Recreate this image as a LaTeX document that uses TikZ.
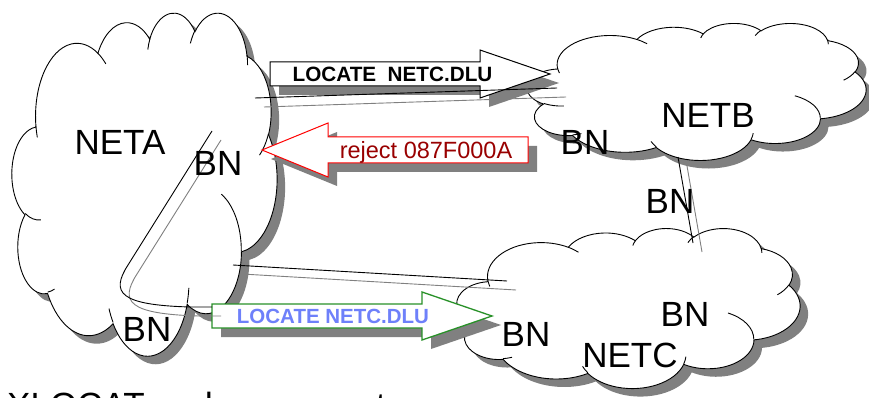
\documentclass[tikz,border=0pt]{standalone}
\usepackage{fontspec}
\setmainfont{Liberation Sans}
\definecolor{shadowgray}{RGB}{128,128,128}
\definecolor{rejred}{RGB}{153,0,0}
\definecolor{locgreen}{RGB}{40,145,40}
\definecolor{locblue}{RGB}{110,128,250}
% arc of an ellipse given OOXML-like (geometric) start angle and sweep
\newcommand\defcarc[5]{%
  \pgfmathsetmacro\cldS{atan2((#2)*sin(#4),(#3)*cos(#4))}%
  \pgfmathsetmacro\cldE{atan2((#2)*sin((#4)+(#5)),(#3)*cos((#4)+(#5)))}%
  \pgfmathsetmacro\cldD{\cldE-\cldS}%
  \pgfmathsetmacro\cldD{\cldD<0?\cldD+360:\cldD}%
  \edef\cldTmp{\noexpand\tikzset{#1/.style={start angle=\cldS,delta angle=\cldD,x radius=#2,y radius=#3}}}%
  \cldTmp}
\defcarc{ca1}{6.753}{9.190}{-190.48748}{123.78053}
\defcarc{ca2}{5.333}{7.267}{-144.10238}{89.94523}
\defcarc{ca3}{4.365}{5.945}{-145.80792}{99.72302}
\defcarc{ca4}{4.857}{6.595}{-130.98607}{117.24173}
\defcarc{ca5}{5.333}{7.273}{-78.70888}{109.02692}
\defcarc{ca6}{6.775}{9.220}{-46.26725}{130.269}
\defcarc{ca7}{5.785}{7.867}{0.62502}{114.03333}
\defcarc{ca8}{6.752}{9.215}{22.4516}{115.17255}
\defcarc{ca9}{7.720}{10.543}{66.24263}{75.71102}
\defcarc{ca10}{4.360}{5.918}{-274.94208}{146.73557}
\defcarc{ca11}{4.345}{5.945}{-246.8285}{152.51885}
\defcarc{ch1}{4.345}{5.945}{86.742}{26.4295}
\defcarc{ch2}{4.360}{5.918}{73.61047}{11.44747}
\defcarc{ch3}{6.752}{9.215}{137.62415}{14.0811}
\defcarc{ch4}{6.752}{9.215}{6.45327}{15.99835}
\defcarc{ch5}{5.785}{7.867}{-70.29235}{70.91737}
\defcarc{ch6}{5.333}{7.273}{30.31803}{27.7515}
\defcarc{ch7}{4.857}{6.595}{-13.74433}{14.8589}
\defcarc{ch8}{4.857}{6.595}{-149.18145}{18.19537}
\defcarc{ch9}{4.365}{5.945}{-163.49427}{17.68635}
\defcarc{ch10}{6.753}{9.190}{-66.70695}{12.31935}
\defcarc{ch11}{6.753}{9.190}{157.65435}{11.85817}
\tikzset{
  cloudpath/.style={insert path={(3.900,14.370) arc[ca1] arc[ca2] arc[ca3] arc[ca4] arc[ca5] arc[ca6] arc[ca7] arc[ca8] arc[ca9] arc[ca10] arc[ca11] -- cycle}},
  cloudhints/.style={insert path={(4.693,26.177) arc[ch1] (6.928,34.899) arc[ch2] (16.478,39.090) arc[ch3] (28.827,34.751) arc[ch4] (34.129,22.954) arc[ch5] (41.798,15.354) arc[ch6] (38.324,5.426) arc[ch7] (29.078,3.952) arc[ch8] (22.141,4.720) arc[ch9] (14.000,5.192) arc[ch10] (4.127,15.789) arc[ch11]}},
  cloudline/.style={draw=black,line width=0.9pt},
  lbl/.style={inner sep=0pt,font=\fontsize{35}{40}\selectfont},
  link/.style={draw=black,line width=0.9pt},
  linkshadow/.style={draw=shadowgray,line width=0.9pt},
  arrowshadow/.style={fill=shadowgray,draw=none},
}
\newcommand\drawcloud[5]{%
  \begin{scope}[shift={(#2+8,#3+8)},xscale=#4/43.2,yscale=#5/43.2]
    \path[fill=shadowgray,cloudpath];
  \end{scope}
  \begin{scope}[shift={(#2,#3)},xscale=#4/43.2,yscale=#5/43.2]
    \path[fill=white,cloudline,cloudpath];
    \path[cloudline,cloudhints];
    \coordinate (#1) at (21.6,21.6);
  \end{scope}}
\begin{document}
\begin{tikzpicture}[x=1pt,y=-1pt]
\useasboundingbox (0,0) rectangle (869,398);
\clip (0,0) rectangle (869,398);
\fill[white] (0,0) rectangle (869,398);
% clouds
\drawcloud{cloudA}{12}{12}{265}{343}
\drawcloud{cloudB}{527}{23}{339}{137}
\drawcloud{cloudC}{457}{228}{343}{160}
% block arrows
\path[arrowshadow,shift={(9,9)}] (270,62)--(480,62)--(480,50)--(550,74)--(480,98)--(480,86)--(270,86)--cycle;
\path[fill=white,draw=black,line width=1pt] (270,62)--(480,62)--(480,50)--(550,74)--(480,98)--(480,86)--(270,86)--cycle;
\path[arrowshadow,shift={(9,9)}] (528,137)--(328,137)--(328,123)--(262,150)--(328,177)--(328,163)--(528,163)--cycle;
\path[fill=white,draw=red,line width=1pt] (528,137)--(328,137)--(328,123)--(262,150)--(328,177)--(328,163)--(528,163)--cycle;
\path[arrowshadow,shift={(9,9)}] (212,304)--(422,304)--(422,292)--(492,316)--(422,340)--(422,328)--(212,328)--cycle;
\path[fill=white,draw=locgreen,line width=1.3pt] (212,304)--(422,304)--(422,292)--(492,316)--(422,340)--(422,328)--(212,328)--cycle;
% connector end points
\coordinate (a1) at (255,98);
\coordinate (b1) at (557,88);
\coordinate (a2) at (233,265);
\coordinate (c1) at (507,281);
\coordinate (b2) at (678,157);
\coordinate (c2) at (693,243);
\coordinate (a3) at (212,131);
\coordinate (a4) at (212,307);
% connector shadows
\draw[linkshadow] (264,107) -- (566,97);
\draw[linkshadow] (242,274) -- (516,290);
\draw[linkshadow] (687,166) -- (702,252);
\draw[linkshadow] (221,140) -- (137,274) .. controls (119,302) and (129,314) .. (199,316) -- (221,316);
% connectors
\draw[link] (a1) -- (b1);
\draw[link] (a2) -- (c1);
\draw[link] (b2) -- (c2);
\draw[link] (a3) -- (128,265) .. controls (110,293) and (120,305) .. (190,307) -- (a4);
% arrow texts
\node[inner sep=0pt,font=\bfseries\fontsize{20.7}{24}\selectfont] (loc1) at (392.5,74.5) {LOCATE~ NETC.DLU};
\node[inner sep=0pt,anchor=base,text=rejred,font=\fontsize{23.5}{28}\selectfont] (rej) at (426,159) {reject 087F000A};
\node[inner sep=0pt,text=locblue,font=\bfseries\fontsize{20.5}{24}\selectfont] (loc2) at (333,316) {LOCATE NETC.DLU};
% labels
\node[lbl] (neta) at (120,142.5) {NETA};
\node[lbl] (bnA1) at (218,163) {BN};
\node[lbl] (bnA2) at (147,329) {BN};
\node[lbl] (bnB1) at (585,142) {BN};
\node[lbl] (netb) at (708,115) {NETB};
\node[lbl] (bnBC) at (670,201) {BN};
\node[lbl] (bnC1) at (685,314) {BN};
\node[lbl] (netc) at (630,355) {NETC};
\node[lbl] (bnC2) at (526,334) {BN};
\node[lbl,anchor=base west] (caption) at (7,417) {XLOCAT and response to};
\end{tikzpicture}
\end{document}
